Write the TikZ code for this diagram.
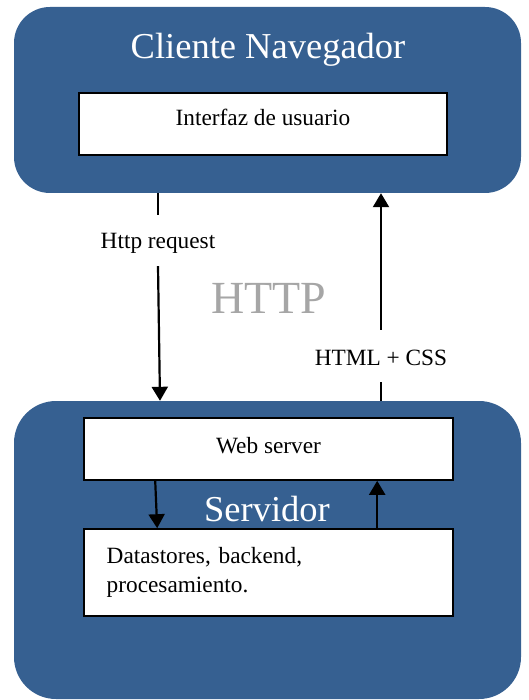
\documentclass[tikz,border=0pt]{standalone}
\usepackage{fontspec}
\setmainfont{Liberation Serif}
\usetikzlibrary{arrows.meta}
\definecolor{panelblue}{RGB}{54,96,145}
\definecolor{httpgray}{RGB}{166,166,166}

\begin{document}
\begin{tikzpicture}[x=1pt, y=-1pt,
  panel/.style={rectangle, fill=panelblue, draw=none, inner sep=0pt},
  box/.style={rectangle, fill=white, draw=black, line width=1.6pt, inner sep=0pt,
    font=\fontsize{23.3}{29}\selectfont},
  title/.style={text=white, inner sep=0pt, anchor=base, font=\fontsize{36.5}{40}\selectfont},
  flowlabel/.style={inner sep=0pt, font=\fontsize{23.3}{29}\selectfont},
  flow/.style={line width=2.2pt},
  flowarrow/.style={line width=2.2pt, -{Triangle[width=16pt,length=14pt]}}
]
\useasboundingbox (0,0) rectangle (528,700);

% the two tiers
\node[panel, rounded corners=36pt, minimum width=507pt, minimum height=186pt] (client) at (267.5,100) {};
\node[panel, rounded corners=42pt, minimum width=507pt, minimum height=298pt] (server) at (267.5,550) {};

% tier titles
\node[title] (clienttitle) at (268,59) {Cliente Navegador};
\node[title] (servertitle) at (267,521) {Servidor};

% components
\node[box, minimum width=368pt, minimum height=62pt, text height=16pt, text depth=12pt] (ui) at (263,124) {Interfaz de usuario};
\node[box, minimum width=369pt, minimum height=62pt, text height=16pt, text depth=8pt] (web) at (268.5,449) {Web server};
\node[box, minimum width=369pt, minimum height=87pt, align=left, text width=323.6pt] (data) at (268.5,572.5)
  {Datastores, backend,\\procesamiento.};

% protocol
\node[inner sep=0pt, anchor=base, text=httpgray, font=\fontsize{46}{50}\selectfont] (proto) at (269,313.5) {HTTP};

% request and response labels
\node[flowlabel, text height=34pt, text depth=17pt] (req) at (158,240.5) {Http request};
\node[flowlabel, text height=35pt, text depth=17pt] (res) at (381,356) {HTML + CSS};

% request: client -> server
\draw[flow] (req.north |- client.south) -- (req.north);
\draw[flowarrow] (req.south) -- ([xshift=2pt]req.south |- server.north);

% response: server -> client
\draw[flow] (res.south |- server.north) -- (res.south);
\draw[flowarrow] (res.north) -- (res.north |- client.south);

% inside the server
\draw[flowarrow] ([xshift=72pt]web.south west) -- ([xshift=74pt]data.north west);
\draw[flowarrow] ([xshift=294pt]data.north west) -- ([xshift=294pt]web.south west);
\end{tikzpicture}
\end{document}
